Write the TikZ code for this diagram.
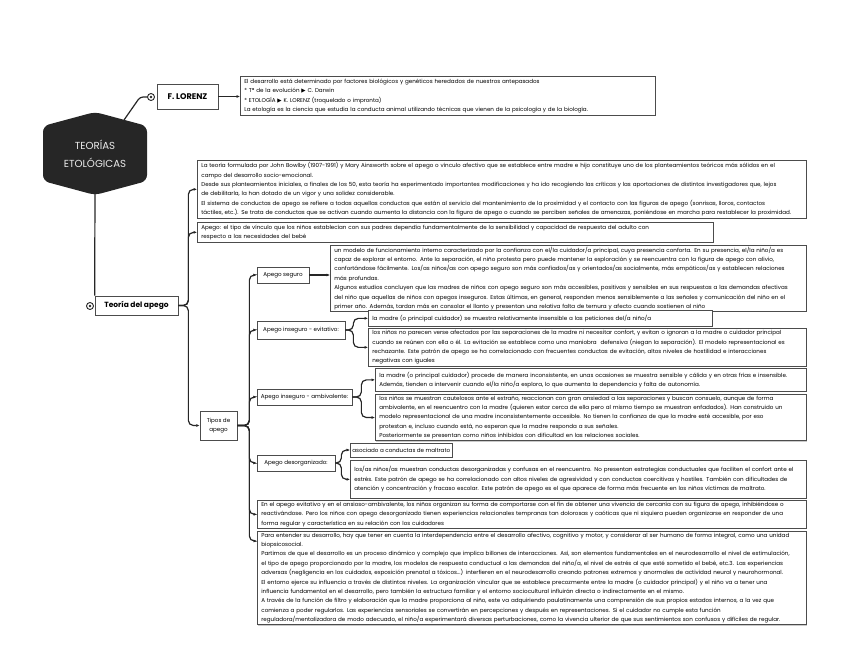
\documentclass[tikz,border=0pt]{standalone}
\usepackage{fontspec}
\setmainfont{Poppins}
\newfontfamily\symfont{DejaVu Sans}
\usetikzlibrary{arrows.meta,positioning,calc,shadows}

\newcommand{\smalltxt}{\fontsize{5.6}{9.4}\selectfont}
\newcommand{\tri}{{\symfont\char"25B6}}

\begin{document}
\begin{tikzpicture}[x=1pt,y=-1pt,
    box/.style={draw=black!70, fill=white, line width=0.7pt, anchor=north west,
        align=left, inner xsep=3.5pt, inner ysep=1.5pt, font=\smalltxt,
        drop shadow={shadow xshift=0.9pt, shadow yshift=-0.9pt, fill=black!35, opacity=0.6}},
    tag/.style={box, anchor=center, align=center},
    line/.style={draw=black!85, line width=1.2pt, rounded corners=5pt},
    arr/.style={line, -{Latex[length=3.4pt,width=3pt]}},
    mark0/.style={circle, draw=black!85, line width=0.9pt, fill=white, minimum size=7pt, inner sep=0pt,
        path picture={\fill[black!85] (path picture bounding box.center) circle (1.4pt);}}
]
\useasboundingbox (0,0) rectangle (848,654);

% main hexagon
\fill[black!85, rounded corners=6pt] (95,112) -- (147,126) -- (147,181) -- (95,195) -- (43,181) -- (43,126) -- cycle;
\node[text=black!8, align=center, font=\fontsize{10.2}{18}\selectfont] (root) at (95,154) {TEORÍAS\\ETOLÓGICAS};
\coordinate (rootne) at (124,120);
\coordinate (roots) at (95,193);

% F. Lorenz
\node[tag, minimum width=61pt, minimum height=25pt, font=\fontsize{8.2}{9}\selectfont\bfseries] (lorenz) at (187.5,96.5) {F. LORENZ};
\node[mark0] (m1) at (151,97) {};
\node[box, minimum width=415pt, minimum height=39pt, text width=407pt] (lorenzt) at (240,76) {El desarrollo está determinado por factores biológicos y genéticos heredados de nuestros antepasados\\
{*} Tª de la evolución \tri{} C. Darwin\\
{*} ETOLOGÍA \tri{} K. LORENZ (troquelado o impronta)\\
La etología es la ciencia que estudia la conducta animal utilizando técnicas que vienen de la psicología y de la biología.};

% Teoria del apego
\node[tag, minimum width=83pt, minimum height=19pt, font=\fontsize{7.5}{8}\selectfont\bfseries] (teoria) at (136.5,305.5) {Teoría del apego};
\node[mark0] (m2) at (90,306) {};

\node[box, minimum width=609pt, minimum height=58pt, text width=601pt] (formulada) at (197,160) {La teoría formulada por John Bowlby (1907-1991) y Mary Ainsworth sobre el apego o vínculo afectivo que se establece entre madre e hijo constituye uno de los planteamientos teóricos más sólidos en el\\
campo del desarrollo socio-emocional.\\
Desde sus planteamientos iniciales, a finales de los 50, esta teoría ha experimentado importantes modificaciones y ha ido recogiendo las críticas y las aportaciones de distintos investigadores que, lejos\\
de debilitarla, la han dotado de un vigor y una solidez considerable.\\
El sistema de conductas de apego se refiere a todas aquellas conductas que están al servicio del mantenimiento de la proximidad y el contacto con las figuras de apego (sonrisas, lloros, contactos\\
táctiles, etc.). Se trata de conductas que se activan cuando aumenta la distancia con la figura de apego o cuando se perciben señales de amenazas, poniéndose en marcha para restablecer la proximidad.};

\node[box, minimum width=516pt, minimum height=20pt, text width=508pt] (apegodef) at (197,222) {Apego: el tipo de vínculo que los niños establecían con sus padres dependía fundamentalmente de la sensibilidad y capacidad de respuesta del adulto con\\
respecto a las necesidades del bebé};

\node[tag, minimum width=37pt, minimum height=29pt, font=\smalltxt] (tipos) at (218.5,425.5) {Tipos de\\apego};

% tipos de apego
\node[tag, minimum width=52pt, minimum height=16pt, font=\smalltxt] (seguro) at (283,275) {Apego seguro};
\node[box, minimum width=476pt, minimum height=60pt, text width=468pt] (segurot) at (330,245) {un modelo de funcionamiento interno caracterizado por la confianza con el/la cuidador/a principal, cuya presencia conforta. En su presencia, el/la niño/a es\\
capaz de explorar el entorno. Ante la separación, el niño protesta pero puede mantener la exploración y se reencuentra con la figura de apego con alivio,\\
confortándose fácilmente. Los/as niños/as con apego seguro son más confiados/as y orientados/as socialmente, más empáticos/as y establecen relaciones\\
más profundas.\\
Algunos estudios concluyen que las madres de niños con apego seguro son más accesibles, positivas y sensibles en sus respuestas a las demandas afectivas\\
del niño que aquellas de niños con apegos inseguros. Estas últimas, en general, responden menos sensiblemente a las señales y comunicación del niño en el\\
primer año. Además, tardan más en consolar el llanto y presentan una relativa falta de ternura y afecto cuando sostienen al niño};

\node[tag, minimum width=88pt, minimum height=18pt, font=\smalltxt] (evit) at (301,330) {Apego inseguro - evitativo:};
\node[box, minimum width=344pt, minimum height=16pt, text width=336pt] (evita) at (368,310) {la madre (o principal cuidador) se muestra relativamente insensible a las peticiones del/a niño/a};
\node[box, minimum width=438pt, minimum height=38pt, text width=430pt] (evitb) at (368,328) {los niños no parecen verse afectados por las separaciones de la madre ni necesitar confort, y evitan o ignoran a la madre o cuidador principal\\
cuando se reúnen con ella o él. La evitación se establece como una maniobra \ defensiva (niegan la separación). El modelo representacional es\\
rechazante. Este patrón de apego se ha correlacionado con frecuentes conductas de evitación, altos niveles de hostilidad e interacciones\\
negativas con iguales};

\node[tag, minimum width=95pt, minimum height=16pt, font=\smalltxt] (ambi) at (304.5,397) {Apego inseguro - ambivalente:};
\node[box, minimum width=431pt, minimum height=23pt, text width=423pt] (ambia) at (375,368) {la madre (o principal cuidador) procede de manera inconsistente, en unas ocasiones se muestra sensible y cálida y en otras frías e insensible.\\
Además, tienden a intervenir cuando el/la niño/a explora, lo que aumenta la dependencia y falta de autonomía.};
\node[box, minimum width=431pt, minimum height=44pt, text width=423pt] (ambib) at (375,394) {los niños se muestran cautelosos ante el extraño, reaccionan con gran ansiedad a las separaciones y buscan consuelo, aunque de forma\\
ambivalente, en el reencuentro con la madre (quieren estar cerca de ella pero al mismo tiempo se muestran enfadados). Han construido un\\
modelo representacional de una madre inconsistentemente accesible. No tienen la confianza de que la madre esté accesible, por eso\\
protestan e, incluso cuando está, no esperan que la madre responda a sus señales.\\
Posteriormente se presentan como niños inhibidos con dificultad en las relaciones sociales.};

\node[tag, minimum width=78pt, minimum height=16pt, font=\smalltxt] (desorg) at (296,463) {Apego desorganizado:};
\node[tag, anchor=west, inner xsep=2pt, minimum height=14pt, font=\smalltxt] (desorga) at (350,450) {asociado a conductas de maltrato};
\node[box, minimum width=456pt, minimum height=38pt, text width=448pt] (desorgb) at (350,460) {los/as niños/as muestran conductas desorganizadas y confusas en el reencuentro. No presentan estrategias conductuales que faciliten el confort ante el\\
estrés. Este patrón de apego se ha correlacionado con altos niveles de agresividad y con conductas coercitivas y hostiles. También con dificultades de\\
atención y concentración y fracaso escolar. Este patrón de apego es el que aparece de forma más frecuente en los niños víctimas de maltrato.};

\node[box, minimum width=549pt, minimum height=28pt, text width=541pt] (evitambi) at (257,500) {En el apego evitativo y en el ansioso-ambivalente, los niños organizan su forma de comportarse con el fin de obtener una vivencia de cercanía con su figura de apego, inhibiéndose o\\
reactivándose. Pero los niños con apego desorganizado tienen experiencias relacionales tempranas tan dolorosas y caóticas que ni siquiera pueden organizarse en responder de una\\
forma regular y característica en su relación con los cuidadores};

\node[box, minimum width=549pt, minimum height=81pt, text width=541pt] (entender) at (257,531) {Para entender su desarrollo, hay que tener en cuenta la interdependencia entre el desarrollo afectivo, cognitivo y motor, y considerar al ser humano de forma integral, como una unidad\\
biopsicosocial.\\
Partimos de que el desarrollo es un proceso dinámico y complejo que implica billones de interacciones. Así, son elementos fundamentales en el neurodesarrollo el nivel de estimulación,\\
el tipo de apego proporcionado por la madre, los modelos de respuesta conductual a las demandas del niño/a, el nivel de estrés al que esté sometido el bebé, etc.3. Las experiencias\\
adversas (negligencia en los cuidados, exposición prenatal a tóxicos...) interfieren en el neurodesarrollo creando patrones extremos y anormales de actividad neural y neurohormonal.\\
El entorno ejerce su influencia a través de distintos niveles. La organización vincular que se establece precozmente entre la madre (o cuidador principal) y el niño va a tener una\\
influencia fundamental en el desarrollo, pero también la estructura familiar y el entorno sociocultural influirán directa o indirectamente en el mismo.\\
A través de la función de filtro y elaboración que la madre proporciona al niño, este va adquiriendo paulatinamente una comprensión de sus propios estados internos, a la vez que\\
comienza a poder regularlos. Las experiencias sensoriales se convertirán en percepciones y después en representaciones. Si el cuidador no cumple esta función\\
reguladora/mentalizadora de modo adecuado, el niño/a experimentará diversas perturbaciones, como la vivencia ulterior de que sus sentimientos son confusos y difíciles de regular.};

% connectors
\draw[line, rounded corners=3pt] (rootne) -- ($(m1.west)+(-7,0)$) -- (m1.west);
\draw[arr] (lorenz.east) -- (lorenzt.west |- lorenz.east);
\draw[line] (roots) -- (teoria.north west);

\draw[arr] (teoria.east) -- ++(10,0) |- (formulada.west);
\draw[arr] (teoria.east) -- ++(10,0) |- (apegodef.west);
\draw[arr] (teoria.east) -- ++(10,0) |- (tipos.west);

\foreach \k in {seguro,evit,ambi,desorg,evitambi}
  \draw[arr] (tipos.east) -- ++(12,0) |- (\k.west);
\coordinate (entin) at ($(entender.north west)+(0,10)$);
\draw[arr] (tipos.east) -- ++(12,0) |- (entin);

\draw[arr] (seguro.east) -- (segurot.west |- seguro.east);
\draw[arr] (evit.east) -- ++(8,0) |- (evita.west);
\draw[arr] (evit.east) -- ++(8,0) |- (evitb.west);
\draw[arr] (ambi.east) -- ++(9,0) |- (ambia.west);
\draw[arr] (ambi.east) -- ++(9,0) |- (ambib.west);
\draw[arr] (desorg.east) -- ++(6,0) |- (desorga.west);
\draw[arr] (desorg.east) -- ++(6,0) |- (desorgb.west);
\end{tikzpicture}
\end{document}
